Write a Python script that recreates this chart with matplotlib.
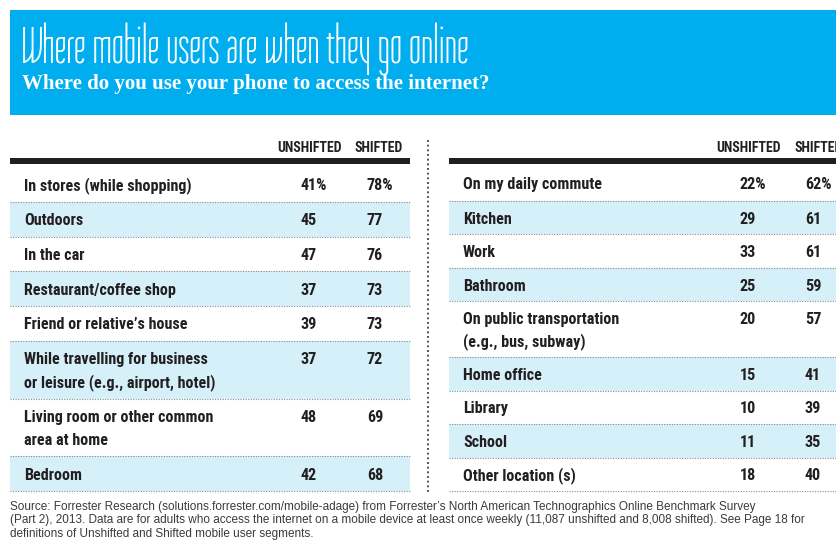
import matplotlib
matplotlib.use("Agg")
import matplotlib.pyplot as plt
from matplotlib.patches import Rectangle

# ---- data -------------------------------------------------------------
title = "Where mobile users are when they go online"
subtitle = "Where do you use your phone to access the internet?"
col_headers = ["UNSHIFTED", "SHIFTED"]

left_places = [
    "In stores (while shopping)",
    "Outdoors",
    "In the car",
    "Restaurant/coffee shop",
    "Friend or relative\u2019s house",
    "While travelling for business\nor leisure (e.g., airport, hotel)",
    "Living room or other common\narea at home",
    "Bedroom",
]
left_unshifted = [41, 45, 47, 37, 39, 37, 48, 42]
left_shifted = [78, 77, 76, 73, 73, 72, 69, 68]

right_places = [
    "On my daily commute",
    "Kitchen",
    "Work",
    "Bathroom",
    "On public transportation\n(e.g., bus, subway)",
    "Home office",
    "Library",
    "School",
    "Other location (s)",
]
right_unshifted = [22, 29, 33, 25, 20, 15, 10, 11, 18]
right_shifted = [62, 61, 61, 59, 57, 41, 39, 35, 40]

source_lines = [
    "Source: Forrester Research (solutions.forrester.com/mobile-adage) from Forrester\u2019s "
    "North American Technographics Online Benchmark Survey",
    "(Part 2), 2013. Data are for adults who access the internet on a mobile device at least "
    "once weekly (11,087 unshifted and 8,008 shifted). See Page 18 for",
    "definitions of Unshifted and Shifted mobile user segments.",
]

# ---- style ------------------------------------------------------------
BLUE = "#00aeef"
BAND = "#d5f0f9"
INK = "#231f20"
DOT = "#8c8c8c"
BODY = ["Roboto Condensed", "DejaVu Sans"]
NOTE = ["Liberation Sans", "DejaVu Sans"]
TITLE_FONT = ["Tulpen One", "DejaVu Sans"]
SERIF = ["Liberation Serif", "DejaVu Serif"]
BODY_WEIGHT = "semibold"

W, H = 837, 540
fig = plt.figure(figsize=(W / 100, H / 100), dpi=100)
ax = fig.add_axes([0, 0, 1, 1])
ax.set_xlim(0, W)
ax.set_ylim(H, 0)
ax.axis("off")

# banner
ax.add_patch(Rectangle((10, 10), W - 10, 105, facecolor=BLUE, edgecolor="none"))
ax.text(21, 63, title, family=TITLE_FONT, fontsize=37.8, color="white", va="baseline")
ax.text(22, 89, subtitle, family=SERIF, fontsize=15, fontweight="bold",
        color="white", va="baseline")

# vertical dotted divider between the two tables
ax.plot([428, 428], [140, 492], color="#555555", lw=1.4, ls=(0, (1, 1.4)))


def draw_table(x0, x1, places, unshifted, shifted, label_x, ux, sx, hux, hsx):
    top, bottom = 164.0, 491.0
    first_extra = 3.5
    weights = [1 + 0.67 * (p.count("\n")) for p in places]
    unit = (bottom - top - first_extra) / sum(weights)

    # header and heavy rule
    ax.text(hux, 152, col_headers[0], family=BODY, fontsize=10, fontweight="bold",
            color=INK, va="baseline")
    ax.text(hsx, 152, col_headers[1], family=BODY, fontsize=10, fontweight="bold",
            color=INK, va="baseline")
    ax.add_patch(Rectangle((x0, 158), x1 - x0, 5.5, facecolor=INK, edgecolor="none"))

    y = top
    for i, (place, u, s) in enumerate(zip(places, unshifted, shifted)):
        h = weights[i] * unit + (first_extra if i == 0 else 0)
        if i % 2 == 1:
            ax.add_patch(Rectangle((x0, y), x1 - x0, h, facecolor=BAND, edgecolor="none"))
        lines = place.split("\n")
        pad = 2 if i == 0 else 0
        center = y + pad + (h - pad) / 2
        first_base = center - 11.5 * (len(lines) - 1) + 6
        for k, line in enumerate(lines):
            ax.text(label_x, first_base + 23 * k, line, family=BODY, fontsize=11.6,
                    fontweight=BODY_WEIGHT, color=INK, va="baseline")
        suffix = "%" if i == 0 else ""
        ax.text(ux, first_base, f"{u}{suffix}", family=BODY, fontsize=11.6,
                fontweight=BODY_WEIGHT, color=INK, va="baseline")
        ax.text(sx, first_base, f"{s}{suffix}", family=BODY, fontsize=11.6,
                fontweight=BODY_WEIGHT, color=INK, va="baseline")
        y += h
        ax.plot([x0, x1], [y, y], color=DOT, lw=0.8, ls=(0, (1, 1.3)))


draw_table(10, 410, left_places, left_unshifted, left_shifted,
           label_x=24, ux=301, sx=367, hux=277, hsx=355)
draw_table(449, W, right_places, right_unshifted, right_shifted,
           label_x=463, ux=740, sx=805, hux=716, hsx=795)

for k, line in enumerate(source_lines):
    ax.text(10, 510 + 13.5 * k, line, family=NOTE, fontsize=8.5, color="#3a3a3a",
            va="baseline")

fig.savefig("out.png", dpi=100)
